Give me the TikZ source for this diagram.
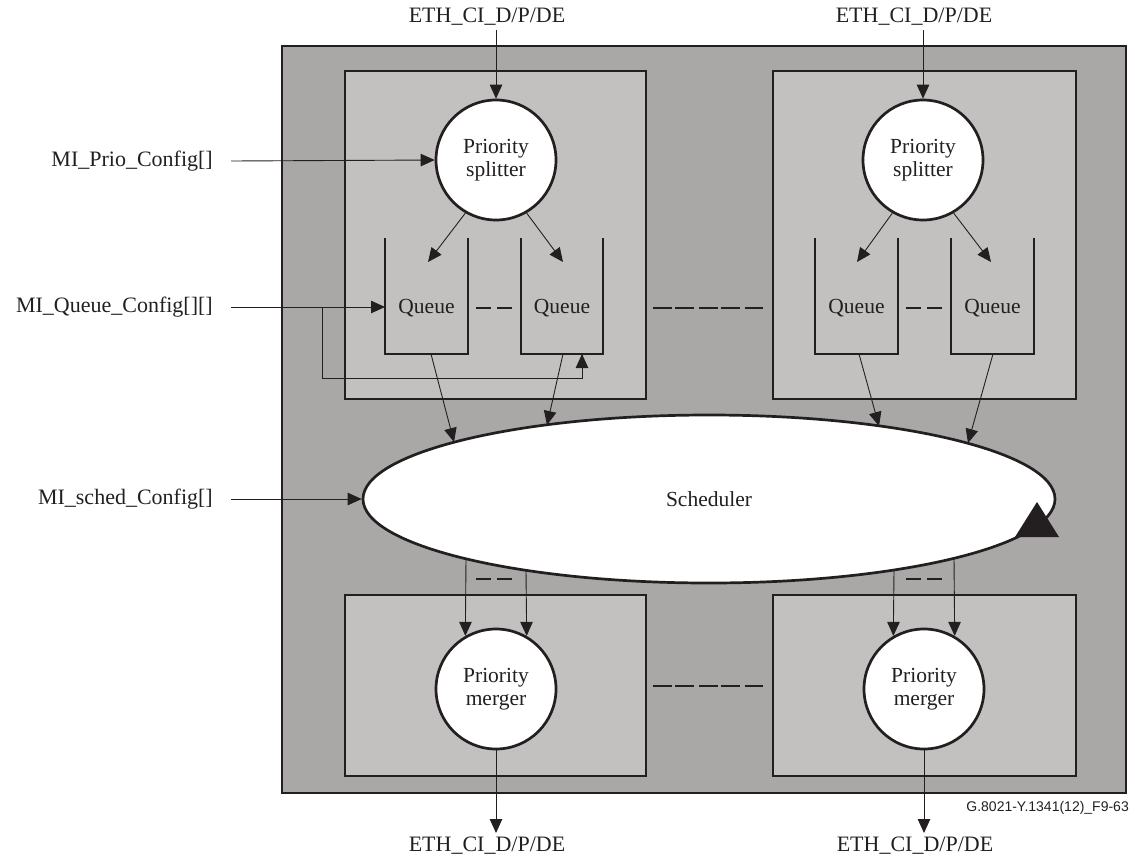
\documentclass[tikz,border=0pt]{standalone}
\usepackage{fontspec}
\setmainfont{Liberation Serif}
\newfontfamily\figsans{Liberation Sans}
\usetikzlibrary{arrows.meta,shapes.geometric}
\definecolor{outerfill}{RGB}{169,168,166}
\definecolor{innerfill}{RGB}{194,193,191}
\definecolor{linec}{RGB}{35,31,32}
\begin{document}
\begin{tikzpicture}[x=1pt,y=-1pt,
  boxline/.style={draw=linec, line width=2.7pt},
  arr/.style={draw=linec, line width=0.9pt, -{Triangle[length=14pt,width=12.5pt]}},
  conn/.style={draw=linec, line width=0.9pt},
  dashln/.style={draw=linec, line width=1.2pt, dash pattern=on 18.5pt off 3.5pt on 18.5pt off 5.5pt},
  smalldash/.style={draw=linec, line width=1.2pt, dash pattern=on 15pt off 6pt},
  lbl/.style={font=\fontsize{22}{24}\selectfont, text=linec, inner sep=0pt},
  circ/.style={circle, draw=linec, line width=2.7pt, fill=white, minimum size=120pt, inner sep=0pt, align=center, font=\fontsize{21.5}{23.5}\selectfont, text=linec},
  qtext/.style={font=\fontsize{21.5}{23.5}\selectfont, text=linec, inner sep=0pt}]
\useasboundingbox (0,0) rectangle (1135,860);

% boxes
\draw[boxline, fill=outerfill] (282,46) rectangle (1126,793);
\draw[boxline, fill=innerfill] (345,71) rectangle (646,399);
\draw[boxline, fill=innerfill] (773,71) rectangle (1076,399);
\draw[boxline, fill=innerfill] (345,595) rectangle (646,776);
\draw[boxline, fill=innerfill] (773,595) rectangle (1076,776);

% splitters
\node[circ] (sp1) at (496,160) {Priority\\splitter};
\node[circ] (sp2) at (923,160) {Priority\\splitter};

% queues
\draw[boxline] (385,238) -- (385,354) -- (468,354) -- (468,238);
\draw[boxline] (521,238) -- (521,354) -- (603,354) -- (603,238);
\draw[boxline] (815,238) -- (815,354) -- (898,354) -- (898,238);
\draw[boxline] (951,238) -- (951,354) -- (1034,354) -- (1034,238);
\node[qtext] (q1) at (426.5,308) {Queue};
\node[qtext] (q2) at (562,308) {Queue};
\node[qtext] (q3) at (856.5,308) {Queue};
\node[qtext] (q4) at (992.5,308) {Queue};
\draw[smalldash] (476,308) -- (512,308);
\draw[smalldash] (906,308) -- (943,308);
\draw[dashln] (653,308) -- (763,308);

% scheduler
\node[ellipse, draw=linec, line width=2.7pt, fill=white, minimum width=692pt, minimum height=168pt, inner sep=0pt, font=\fontsize{21.5}{23.5}\selectfont, text=linec] (sched) at (709,499) {Scheduler};
\fill[linec] (1015,537) -- (1037,502) -- (1059,537) -- cycle;

% mergers
\node[circ] (m1) at (496,689) {Priority\\merger};
\node[circ] (m2) at (924,689) {Priority\\merger};
\draw[smalldash] (476,579) -- (513,579);
\draw[smalldash] (906,579) -- (942,579);
\draw[dashln] (653,686) -- (763,686);

% coordinates
\coordinate (q1in) at (428,262);
\coordinate (q2in) at (563,262);
\coordinate (q3in) at (857,262);
\coordinate (q4in) at (991,262);
\coordinate (q1out) at (431,354);
\coordinate (q2out) at (563,354);
\coordinate (q3out) at (859,354);
\coordinate (q4out) at (993,354);
\coordinate (s1) at (454,442);
\coordinate (s2) at (547,425);
\coordinate (s3) at (879,426);
\coordinate (s4) at (968,443);
\coordinate (b1) at (466,559);
\coordinate (b2) at (526,570);
\coordinate (b3) at (894,570);
\coordinate (b4) at (954,558);
\coordinate (qbr) at (322,307);
\coordinate (qbr2) at (322,378);
\coordinate (qbr3) at (582,378);
\coordinate (q2bot) at (582,354);
\coordinate (qleft) at (385,307);

% splitter to queues
\draw[arr] (sp1.240) -- (q1in);
\draw[arr] (sp1.300) -- (q2in);
\draw[arr] (sp2.240) -- (q3in);
\draw[arr] (sp2.300) -- (q4in);

% queues to scheduler
\draw[arr] (q1out) -- (s1);
\draw[arr] (q2out) -- (s2);
\draw[arr] (q3out) -- (s3);
\draw[arr] (q4out) -- (s4);

% scheduler to mergers
\draw[arr] (b1) -- (m1.120);
\draw[arr] (b2) -- (m1.60);
\draw[arr] (b3) -- (m2.120);
\draw[arr] (b4) -- (m2.60);

% external labels
\node[lbl] (in1) at (487,17) {ETH\_CI\_D/P/DE};
\node[lbl] (in2) at (914,17) {ETH\_CI\_D/P/DE};
\node[lbl] (out1) at (487,846) {ETH\_CI\_D/P/DE};
\node[lbl] (out2) at (915,846) {ETH\_CI\_D/P/DE};
\coordinate (in1e) at (496,30);
\coordinate (in2e) at (923,30);
\coordinate (out1e) at (496,833);
\coordinate (out2e) at (924,833);
\draw[arr] (in1e) -- (sp1.north);
\draw[arr] (in2e) -- (sp2.north);
\draw[arr] (m1.south) -- (out1e);
\draw[arr] (m2.south) -- (out2e);

\node[lbl, anchor=east] (prio) at (213,161) {MI\_Prio\_Config[]};
\node[lbl, anchor=east] (queuecfg) at (213,307) {MI\_Queue\_Config[][]};
\node[lbl, anchor=east] (schedcfg) at (213,499) {MI\_sched\_Config[]};
\coordinate (prioe) at (231,161);
\coordinate (queuee) at (231,307);
\coordinate (schede) at (231,499);
\draw[arr] (prioe) -- (sp1.west);
\draw[arr] (queuee) -- (qleft);
\draw[conn] (qbr) -- (qbr2) -- (qbr3) -- (q2bot);
\draw[arr] (qbr3) -- (q2bot);
\draw[arr] (schede) -- (sched.west);

\node[font=\figsans\fontsize{14}{16}\selectfont, text=linec, anchor=east, inner sep=0pt] (fig) at (1129,808) {G.8021-Y.1341(12)\_F9-63};
\end{tikzpicture}
\end{document}
